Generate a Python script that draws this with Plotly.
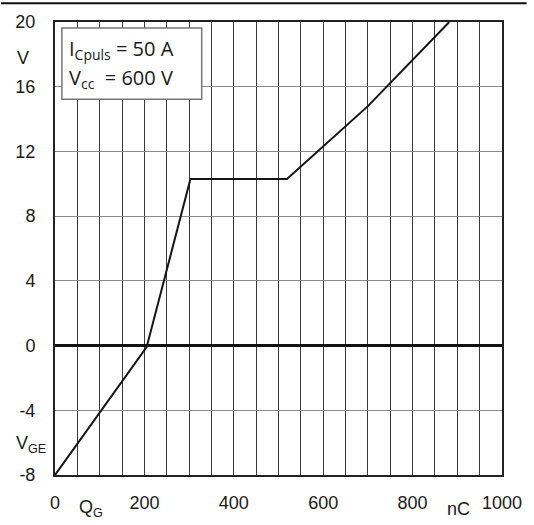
import plotly.graph_objects as go

# Gate charge curve: gate-emitter voltage vs. gate charge
q_gate_nc = [0, 205, 303, 519, 700, 882]
v_ge = [-8, -0.1, 10.3, 10.3, 14.8, 20]

x_ticks = [0, 200, 400, 600, 800, 1000]
y_ticks = [-8, -4, 0, 4, 8, 12, 16, 20]

W, H = 534, 525
L, R, T, B = 55, 25, 21, 46
pw, ph = W - L - R, H - T - B

def px_x(p):
    return (p - L) / pw

def px_y(p):
    return (H - B - p) / ph

tick_font = dict(family="Liberation Sans, Arial, sans-serif", size=18, color="#1a1a1a")
box_font = dict(family="Open Sans, sans-serif", size=20, color="#1a1a1a")

fig = go.Figure()
fig.add_trace(go.Scatter(
    x=q_gate_nc, y=v_ge, mode="lines",
    line=dict(color="#151515", width=2),
    hoverinfo="skip", showlegend=False,
))

fig.update_layout(
    width=W, height=H,
    margin=dict(l=L, r=R, t=T, b=B),
    paper_bgcolor="white", plot_bgcolor="white",
    showlegend=False,
    xaxis=dict(
        range=[0, 1000], tickvals=x_ticks, ticktext=[str(v) for v in x_ticks],
        showgrid=True, gridcolor="#3a3a3a", gridwidth=1,
        minor=dict(dtick=50, showgrid=True, gridcolor="#3a3a3a", gridwidth=1),
        showline=True, linecolor="#222", linewidth=2, mirror=True,
        zeroline=False, ticks="", tickfont=tick_font, ticklabelstandoff=10,
        fixedrange=True,
    ),
    yaxis=dict(
        range=[-8, 20], tickvals=y_ticks, ticktext=[str(v) for v in y_ticks],
        showgrid=True, gridcolor="#8a8a8a", gridwidth=1,
        showline=True, linecolor="#222", linewidth=2, mirror=True,
        zeroline=True, zerolinecolor="#111", zerolinewidth=3,
        ticks="", tickfont=tick_font, ticklabelstandoff=14,
        fixedrange=True,
    ),
)

# Top rule across the page
fig.add_shape(type="line", xref="paper", yref="paper",
              x0=px_x(0), x1=px_x(W), y0=px_y(2), y1=px_y(2),
              line=dict(color="#111", width=2))

# Condition box
fig.add_shape(type="rect", xref="paper", yref="paper",
              x0=px_x(62), x1=px_x(204), y0=px_y(99), y1=px_y(27),
              fillcolor="white", line=dict(color="#777", width=1.5), layer="above")

fig.add_annotation(xref="paper", yref="paper", x=px_x(67), y=px_y(49),
                   xanchor="left", yanchor="middle", showarrow=False,
                   text="I<sub>Cpuls</sub> = 50 A", font=box_font)
fig.add_annotation(xref="paper", yref="paper", x=px_x(67), y=px_y(78),
                   xanchor="left", yanchor="middle", showarrow=False,
                   text="V<sub>cc</sub>  = 600 V", font=box_font)

# Axis unit and quantity labels
fig.add_annotation(xref="paper", yref="paper", x=px_x(14), y=px_y(57),
                   xanchor="left", yanchor="middle", showarrow=False,
                   text="V", font=tick_font)
fig.add_annotation(xref="paper", yref="paper", x=px_x(13), y=px_y(448),
                   xanchor="left", yanchor="middle", showarrow=False,
                   text="V<sub>GE</sub>", font=tick_font)
fig.add_annotation(xref="paper", yref="paper", x=px_x(92), y=px_y(513),
                   xanchor="center", yanchor="middle", showarrow=False,
                   text="Q<sub>G</sub>", font=tick_font)
fig.add_annotation(xref="paper", yref="paper", x=px_x(465), y=px_y(513),
                   xanchor="center", yanchor="middle", showarrow=False,
                   text="nC", font=tick_font)

fig.write_html("out.html", config={"displayModeBar": False})
